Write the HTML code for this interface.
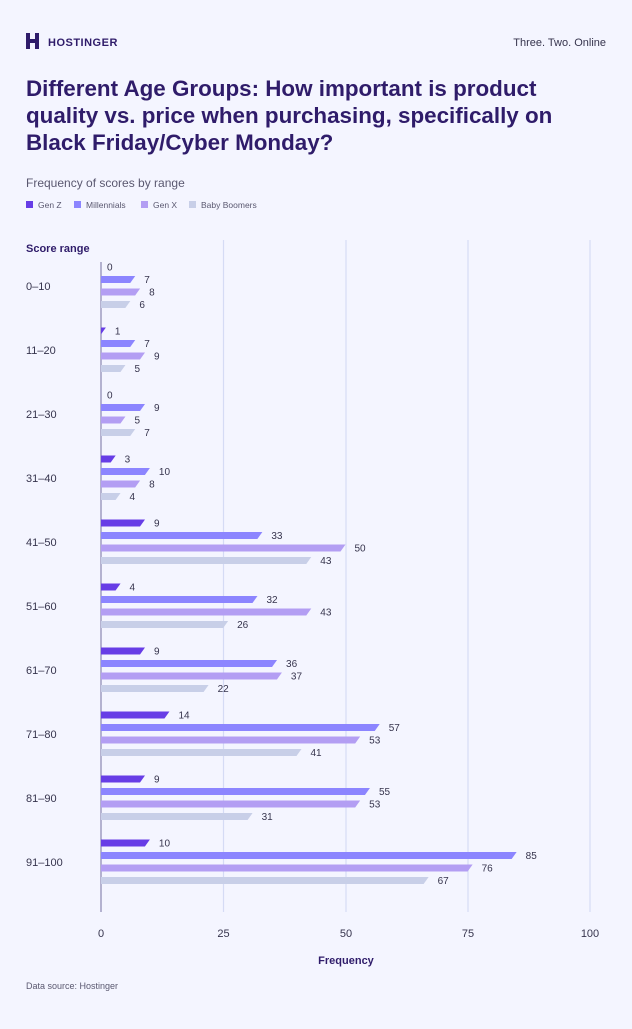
<!DOCTYPE html>
<html><head><meta charset="utf-8"><style>
body{margin:0;width:632px;height:1024px;background:#f4f5ff;font-family:"Liberation Sans",sans-serif;overflow:hidden}
</style></head><body>
<svg width="632" height="1024" xmlns="http://www.w3.org/2000/svg" font-family="Liberation Sans, sans-serif">
<rect width="632" height="1024" fill="#f4f5ff"/>
<g fill="#2f1c6a">
<rect x="26" y="33" width="4" height="16"/><rect x="35" y="33" width="4" height="16"/><rect x="26" y="39" width="13" height="4"/>
</g>
<text x="48" y="46" font-size="11" font-weight="bold" fill="#2f1c6a" letter-spacing="0.5">HOSTINGER</text>
<text x="606" y="46" font-size="11" fill="#36344d" text-anchor="end">Three. Two. Online</text>
<g font-size="22.4" font-weight="bold" fill="#2f1c6a">
<text x="26" y="96">Different Age Groups: How important is product</text>
<text x="26" y="123">quality vs. price when purchasing, specifically on</text>
<text x="26" y="150">Black Friday/Cyber Monday?</text>
</g>
<text x="26" y="187" font-size="12" fill="#5a5870">Frequency of scores by range</text>
<g font-size="8.5" fill="#5a5870">
<rect x="26" y="201" width="7" height="7" fill="#673de6"/><text x="38" y="208">Gen Z</text>
<rect x="74" y="201" width="7" height="7" fill="#8c85ff"/><text x="86" y="208">Millennials</text>
<rect x="141" y="201" width="7" height="7" fill="#b39ef3"/><text x="153" y="208">Gen X</text>
<rect x="189" y="201" width="7" height="7" fill="#c8cfe8"/><text x="201" y="208">Baby Boomers</text>
</g>
<text x="26" y="252" font-size="11" font-weight="bold" fill="#2f1c6a">Score range</text>
<g stroke="#d5dbf5" stroke-width="1.2">
<line x1="223.5" y1="240" x2="223.5" y2="912"/><line x1="346" y1="240" x2="346" y2="912"/>
<line x1="468" y1="240" x2="468" y2="912"/><line x1="590" y1="240" x2="590" y2="912"/>
</g>
<line x1="101" y1="262" x2="101" y2="912" stroke="#8a86b0" stroke-width="1.2"/>
<g font-size="11" fill="#36344d" text-anchor="middle">
<text x="101" y="937">0</text><text x="223.5" y="937">25</text><text x="346" y="937">50</text><text x="468" y="937">75</text><text x="590" y="937">100</text>
</g>
<text x="346" y="964" font-size="11" font-weight="bold" fill="#2f1c6a" text-anchor="middle">Frequency</text>
<text x="26" y="989" font-size="9" fill="#5a5870">Data source: Hostinger</text>
<g id="bars"></g>
</svg>
<script>
var data=[["0–10",[0,7,8,6]],["11–20",[1,7,9,5]],["21–30",[0,9,5,7]],["31–40",[3,10,8,4]],["41–50",[9,33,50,43]],["51–60",[4,32,43,26]],["61–70",[9,36,37,22]],["71–80",[14,57,53,41]],["81–90",[9,55,53,31]],["91–100",[10,85,76,67]]];
var cols=["#673de6","#8c85ff","#b39ef3","#c8cfe8"],offs=[-19,-6.5,6,18.5];
var g=document.getElementById("bars"),s="";
data.forEach(function(d,i){var cy=286+i*64;
s+='<text x="26" y="'+(cy+4)+'" font-size="11" fill="#36344d">'+d[0]+'</text>';
d[1].forEach(function(v,j){var y=cy+offs[j]-3.5,w=v*4.89,x=101;
if(v>0){s+='<polygon fill="'+cols[j]+'" points="'+x+','+y+' '+(x+w)+','+y+' '+(x+w-5)+','+(y+7)+' '+x+','+(y+7)+'"/>';}
s+='<text x="'+(x+w+(v>0?9:6))+'" y="'+(y+7)+'" font-size="10" fill="#36344d">'+v+'</text>';});});
g.innerHTML=s;
</script>
</body></html>
